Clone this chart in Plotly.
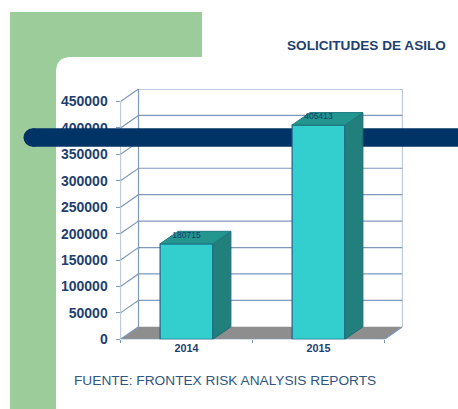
import plotly.graph_objects as go

# ---- data ----
years = ["2014", "2015"]
values = [180715, 405413]
y_ticks = [0, 50000, 100000, 150000, 200000, 250000, 300000, 350000, 400000, 450000]
title_text = "SOLICITUDES DE ASILO"
source_text = "FUENTE: FRONTEX RISK ANALYSIS REPORTS"

# ---- page geometry ----
W, H = 458, 409
L, R, T, B = 120.5, 55.5, 89.0, 69.7
plot_w, plot_h = W - L - R, H - T - B
n = len(years)
DEPTH_PX_X, DEPTH_PX_Y = 18.0, 12.5
x_unit = (plot_w - DEPTH_PX_X) / n
y_unit = (plot_h - DEPTH_PX_Y) / y_ticks[-1]
dx, dy = DEPTH_PX_X / x_unit, DEPTH_PX_Y / y_unit
x_range = [0, n + dx]
y_range = [0, y_ticks[-1] + dy]
BAR_W = 0.4

GRID = "#7F99BD"
NAVY = "#1F3F6E"
FONT = "Liberation Sans"


def paper_x(px):
    return px / W


def paper_y(py):
    return 1 - py / H


x_domain = [paper_x(L), paper_x(W - R)]
y_domain = [paper_y(H - B), paper_y(T)]

fig = go.Figure()

# floor
fig.add_trace(go.Scatter(
    x=[0, n, n + dx, dx, 0], y=[0, 0, dy, dy, 0], mode="lines", fill="toself",
    fillcolor="#8E8E8E", line=dict(color="#8E8E8E", width=0), hoverinfo="skip"))

# back wall and side wall grid
gx, gy = [], []
for t in y_ticks[1:]:
    gx += [0, dx, n + dx, None]
    gy += [t, t + dy, t + dy, None]
gx += [0, 0, None, dx, dx, None, n + dx, n + dx, None, 0, n, n + dx, None, 0, dx]
gy += [0, y_ticks[-1], None, dy, y_ticks[-1] + dy, None, dy, y_ticks[-1] + dy, None, 0, 0, dy, None, 0, dy]
fig.add_trace(go.Scatter(x=gx, y=gy, mode="lines", line=dict(color=GRID, width=1.2),
                         hoverinfo="skip", cliponaxis=False))

# dark band on a full-page subplot, behind the bars but above the axis labels
BAND_Y, BAND_X0, BAND_THICK = 137.5, 32.7, 18.4
fig.add_trace(go.Scatter(
    x=[BAND_X0, W], y=[BAND_Y, BAND_Y], mode="lines", xaxis="x2", yaxis="y2",
    line=dict(color="#003366", width=BAND_THICK), hoverinfo="skip"))
fig.add_trace(go.Scatter(
    x=[BAND_X0], y=[BAND_Y], mode="markers", xaxis="x2", yaxis="y2",
    marker=dict(color="#003366", size=BAND_THICK, line=dict(width=0)), hoverinfo="skip"))

# bars on a third pair of axes, painted after the band
centers = [i + 0.5 for i in range(n)]
fig.add_trace(go.Bar(
    x=centers, y=values, width=BAR_W, xaxis="x3", yaxis="y3",
    marker=dict(color="#33CFCF", line=dict(color="#1F6088", width=1.2)), hoverinfo="skip"))

sx, sy, tx, ty = [], [], [], []
for c, v in zip(centers, values):
    a, b = c - BAR_W / 2, c + BAR_W / 2
    sx += [b, b + dx, b + dx, b, b, None]
    sy += [0, dy, v + dy, v, 0, None]
    tx += [a, b, b + dx, a + dx, a, None]
    ty += [v, v, v + dy, v + dy, v, None]
fig.add_trace(go.Scatter(x=sx, y=sy, mode="lines", fill="toself", fillcolor="#21807C",
                         line=dict(color="#1F6A7A", width=1), xaxis="x3", yaxis="y3",
                         hoverinfo="skip", cliponaxis=False))
fig.add_trace(go.Scatter(x=tx, y=ty, mode="lines", fill="toself", fillcolor="#22968F",
                         line=dict(color="#1F7A80", width=1), xaxis="x3", yaxis="y3",
                         hoverinfo="skip", cliponaxis=False))
fig.add_trace(go.Scatter(
    x=centers, y=[v + 8 / y_unit for v in values],
    text=[str(v) for v in values], mode="text", textposition="middle center",
    textfont=dict(family=FONT, size=8.5, color="#123F6B"),
    xaxis="x3", yaxis="y3", hoverinfo="skip", cliponaxis=False))

# green L-shaped frame
r = 15
green = (
    f"M {paper_x(10)},{paper_y(12)} L {paper_x(202)},{paper_y(12)} L {paper_x(202)},{paper_y(57)} "
    f"L {paper_x(56 + r)},{paper_y(57)} Q {paper_x(56)},{paper_y(57)} {paper_x(56)},{paper_y(57 + r)} "
    f"L {paper_x(56)},{paper_y(409)} L {paper_x(10)},{paper_y(409)} Z"
)
fig.add_shape(type="path", path=green, xref="paper", yref="paper", layer="below",
              fillcolor="#9BCC99", line=dict(width=0))

fig.add_annotation(text=f"<b>{title_text}</b>", xref="paper", yref="paper",
                   x=paper_x(366), y=paper_y(46), showarrow=False,
                   xanchor="center", yanchor="middle",
                   font=dict(family=FONT, size=13.6, color=NAVY))
fig.add_annotation(text=source_text, xref="paper", yref="paper",
                   x=paper_x(225), y=paper_y(380.7), showarrow=False,
                   xanchor="center", yanchor="middle",
                   font=dict(family=FONT, size=13.7, color="#2F5680"))

fig.update_layout(
    width=W, height=H, margin=dict(l=0, r=0, t=0, b=0, pad=0, autoexpand=False),
    paper_bgcolor="white", plot_bgcolor="rgba(0,0,0,0)", showlegend=False,
    barmode="overlay",
    xaxis=dict(domain=x_domain, range=x_range, tickmode="array", tickvals=centers,
               ticktext=[f"<b>{y}</b>" for y in years],
               showgrid=False, zeroline=False, showline=False, ticks="", ticklabelstandoff=1,
               tickfont=dict(family=FONT, size=10.8, color=NAVY),
               minor=dict(tickmode="array", tickvals=list(range(n + 1)), ticks="outside",
                          ticklen=3, tickcolor=GRID, tickwidth=1)),
    yaxis=dict(domain=y_domain, range=y_range, tickmode="array", tickvals=y_ticks,
               ticktext=[f"<b>{t}</b>" for t in y_ticks], layer="below traces",
               showgrid=False, zeroline=False, showline=False, ticks="outside", ticklen=4,
               tickcolor=GRID, tickwidth=1, ticklabelstandoff=5,
               tickfont=dict(family=FONT, size=14, color=NAVY)),
    xaxis2=dict(domain=[0, 1], range=[0, W], visible=False, anchor="y2"),
    yaxis2=dict(domain=[0, 1], range=[H, 0], visible=False, anchor="x2"),
    xaxis3=dict(domain=x_domain, range=x_range, visible=False, anchor="y3"),
    yaxis3=dict(domain=y_domain, range=y_range, visible=False, anchor="x3"),
)

fig.write_html("out.html", config={"displayModeBar": False},
               post_script="document.body.style.margin='0';document.body.style.overflow='hidden';")
